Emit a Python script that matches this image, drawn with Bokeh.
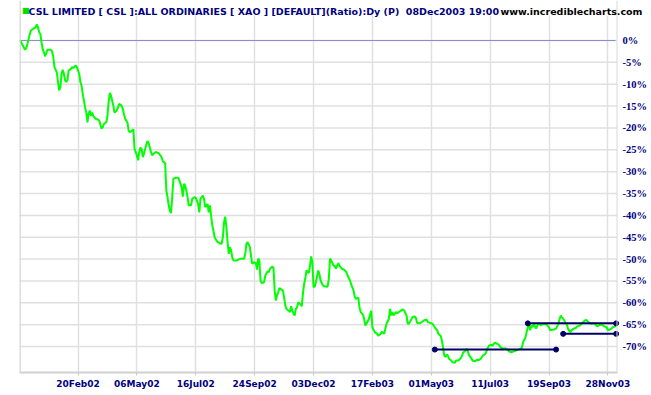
from bokeh.plotting import figure
from bokeh.models import FixedTicker, Span, Label, Range1d, BoxAnnotation
from bokeh.core.properties import value
from bokeh.embed import file_html
from bokeh.resources import INLINE

# trading-day index (20Feb02 = 50, every 50 trading days one tick)
day = [1, 3, 5, 6, 7, 9, 10, 12, 14, 15, 16, 17, 18, 19, 20, 21, 22, 23, 24, 27, 28, 29, 30, 32, 33, 34, 35, 36, 37, 38,
       39, 40, 41, 42, 44, 45, 46, 48, 49, 51, 52, 53, 54, 55, 56, 57, 58, 59, 60, 61, 62, 63, 65, 67, 68, 70, 71, 72, 74, 75,
       76, 77, 78, 80, 81, 83, 84, 85, 87, 88, 89, 90, 92, 93, 94, 96, 97, 98, 100, 101, 102, 103, 104, 105, 106, 108, 109, 110, 112, 113,
       114, 116, 118, 119, 121, 122, 124, 125, 126, 127, 128, 129, 130, 131, 133, 135, 136, 138, 139, 140, 141, 142, 143, 144, 146, 147, 149, 150, 152, 153,
       154, 156, 157, 158, 160, 161, 162, 163, 164, 165, 166, 168, 170, 172, 173, 174, 175, 176, 177, 178, 179, 180, 181, 182, 185, 188, 191, 192, 193, 194,
       196, 197, 198, 199, 201, 202, 203, 204, 205, 206, 208, 209, 211, 212, 213, 215, 216, 217, 218, 219, 220, 221, 222, 224, 225, 226, 227, 229, 230, 231,
       232, 233, 234, 235, 236, 237, 239, 240, 241, 242, 243, 244, 246, 247, 248, 249, 250, 251, 252, 254, 255, 256, 258, 259, 262, 263, 264, 265, 267, 268,
       269, 271, 272, 274, 276, 278, 279, 281, 282, 284, 285, 286, 288, 289, 290, 292, 293, 294, 295, 297, 299, 300, 302, 304, 305, 307, 308, 310, 311, 312,
       314, 315, 316, 317, 318, 320, 321, 324, 326, 327, 329, 330, 331, 332, 334, 336, 337, 338, 340, 342, 344, 346, 347, 349, 351, 352, 353, 355, 356, 358,
       359, 360, 361, 362, 363, 364, 365, 367, 368, 370, 371, 373, 375, 376, 377, 379, 380, 381, 382, 384, 385, 387, 389, 390, 392, 393, 394, 396, 397, 399,
       401, 402, 404, 406, 407, 409, 411, 413, 415, 416, 418, 420, 422, 424, 426, 427, 428, 430, 431, 432, 433, 434, 435, 436, 437, 439, 440, 442, 443, 444,
       446, 448, 450, 451, 452, 454, 456, 458, 459, 460, 461, 463, 464, 465, 466, 468, 469, 471, 473, 474, 476, 478, 479, 481, 482, 484, 486, 487, 489, 491,
       492, 494, 496, 497, 499, 500, 501, 503, 504, 506, 507]
pct = [0.0, -1.1, -2.1, -1.8, -0.8, 1.4, 2.3, 2.7, 3.0, 3.7, 3.0, 1.9, 1.5, -0.4, -1.9, -2.7, -3.6, -3.0, -2.1, -2.1, -2.5, -3.8, -6.1, -7.3, -9.5, -11.4, -10.7, -7.6, -6.7, -7.6,
       -9.1, -9.5, -9.1, -6.9, -6.5, -6.1, -6.3, -5.7, -6.1, -7.6, -9.5, -10.3, -12.2, -13.7, -15.3, -16.4, -18.7, -16.8, -16.0, -17.2, -16.5, -17.3, -17.9, -18.1, -18.3, -20.2, -19.8, -19.1, -18.7, -17.2,
       -14.1, -12.0, -12.6, -14.9, -16.5, -16.0, -15.3, -14.5, -14.9, -15.6, -16.8, -17.9, -18.8, -20.6, -21.0, -20.6, -20.3, -24.8, -26.3, -27.4, -25.5, -24.5, -24.8, -26.7, -25.9, -23.8, -23.0, -23.5, -25.5, -26.3,
       -25.9, -25.5, -25.7, -25.9, -26.7, -27.6, -28.1, -34.3, -35.8, -37.7, -38.9, -39.5, -35.8, -31.6, -31.4, -31.4, -31.9, -33.6, -35.7, -32.8, -33.2, -34.3, -35.8, -37.7, -37.7, -36.2, -35.8, -36.0, -37.4, -39.3,
       -36.2, -35.5, -36.2, -38.1, -37.4, -39.3, -37.7, -40.0, -42.3, -43.5, -45.0, -45.9, -46.4, -46.5, -45.0, -41.6, -40.3, -42.7, -46.1, -48.8, -47.3, -48.0, -49.6, -50.3, -50.3, -49.9, -49.9, -48.8, -46.5, -46.1,
       -47.3, -49.5, -51.1, -50.7, -50.9, -52.4, -49.9, -50.3, -54.9, -55.5, -55.3, -53.8, -52.8, -53.0, -52.2, -51.7, -52.0, -57.2, -59.5, -58.3, -57.6, -56.6, -56.8, -57.2, -58.7, -60.6, -61.4, -61.8, -62.1, -60.8,
       -61.8, -62.5, -62.9, -61.4, -61.0, -59.9, -60.4, -60.8, -57.9, -55.7, -54.5, -52.6, -53.2, -51.5, -49.4, -50.7, -56.4, -56.3, -55.3, -52.6, -53.4, -54.9, -56.0, -56.2, -56.3, -54.5, -49.9, -50.3, -51.5, -51.5,
       -52.2, -50.9, -51.5, -52.2, -52.4, -53.0, -53.8, -54.9, -55.8, -57.2, -58.6, -59.1, -58.8, -61.0, -62.1, -62.7, -63.7, -65.2, -64.8, -63.7, -61.8, -65.6, -66.7, -67.1, -67.5, -67.1, -66.6, -67.1, -65.9, -64.8,
       -63.7, -61.4, -62.9, -62.1, -62.9, -62.1, -62.4, -61.8, -61.5, -61.8, -62.9, -64.8, -64.8, -64.3, -63.3, -63.1, -63.5, -64.6, -64.7, -64.4, -64.0, -63.8, -64.4, -64.6, -64.8, -65.2, -65.6, -66.3, -67.1, -67.6,
       -68.6, -70.2, -72.0, -72.4, -71.9, -72.0, -72.8, -73.2, -73.6, -73.7, -73.2, -73.2, -72.7, -72.2, -71.4, -70.9, -70.5, -71.1, -71.9, -72.7, -73.2, -73.4, -73.0, -73.2, -72.8, -72.4, -72.0, -71.7, -70.9, -69.8,
       -69.6, -69.8, -69.1, -69.4, -69.5, -70.2, -70.5, -70.4, -70.7, -71.1, -71.3, -71.1, -70.9, -70.7, -70.5, -70.2, -69.0, -67.9, -66.7, -65.6, -64.7, -66.3, -65.2, -65.6, -64.8, -65.9, -65.2, -64.7, -65.2, -65.0,
       -64.8, -65.0, -65.6, -66.3, -66.2, -66.1, -65.9, -64.8, -63.7, -62.9, -63.3, -64.0, -64.8, -64.7, -65.9, -66.7, -66.3, -65.9, -65.7, -65.4, -65.2, -64.8, -64.4, -63.9, -64.0, -64.6, -64.8, -64.7, -64.8, -65.4,
       -65.2, -65.0, -65.2, -65.4, -65.6, -66.3, -66.2, -65.9, -65.6, -65.4, -65.2]

tick_days = [50, 100, 150, 200, 250, 300, 350, 400, 450, 500]
tick_labels = ["20Feb02", "06May02", "16Jul02", "24Sep02", "03Dec02",
               "17Feb03", "01May03", "11Jul03", "19Sep03", "28Nov03"]
pct_ticks = [0, -5, -10, -15, -20, -25, -30, -35, -40, -45, -50, -55, -60, -65, -70]
pct_labels = ["0%", "-5%", "-10%", "-15%", "-20%", "-25%", "-30%", "-35%", "-40%", "-45%",
              "-50%", "-55%", "-60%", "-65%", "-70%"]

# horizontal support / resistance lines
trend_start = [353, 432, 462]
trend_end = [456, 507, 507]
trend_level = [-70.7, -64.7, -67.1]

title_text = "CSL LIMITED [ CSL ]:ALL ORDINARIES [ XAO ] [DEFAULT](Ratio):Dy (P)\u00a0 08Dec2003 19:00"
site_text = "www.incrediblecharts.com"

# layout: chart area spans px 19..616 (data 0.3..507.3); canvas frame extends to 648 for the label column
FL, FT = 19, 0
FW, FH = 629, 372
PXD = 507.0 / 597.0          # trading days per pixel
PXP = 85.091 / 372.0         # percent per pixel
X0 = 0.3
X1 = X0 + FW * PXD
Y1 = 9.151
Y0 = Y1 - FH * PXP
NAVY = "#000080"


def xd(px):
    return X0 + (px - FL) * PXD


def yd(py):
    return Y1 - (py - FT) * PXP


p = figure(frame_width=FW, frame_height=FH, x_range=Range1d(X0, X1), y_range=Range1d(Y0, Y1),
           output_backend="svg", toolbar_location=None, y_axis_location=None,
           min_border_left=FL, min_border_top=FT, min_border_right=0, min_border_bottom=0,
           background_fill_color="white", border_fill_color="white")
p.outline_line_color = None

# x axis
xa = p.xaxis[0]
xa.ticker = FixedTicker(ticks=tick_days)
xa.major_label_overrides = {d: l for d, l in zip(tick_days, tick_labels)}
xa.bounds = (X0, xd(616.5))
xa.axis_line_color = "#d0d0d0"
xa.axis_line_width = 2
xa.major_tick_out = 3
xa.major_tick_in = 0
xa.major_tick_line_color = "#c8c8c8"
xa.minor_tick_line_color = None
xa.major_label_standoff = 3
xa.major_label_text_font = "DejaVu Sans"
xa.major_label_text_font_style = "bold"
xa.major_label_text_font_size = "9px"
xa.major_label_text_color = NAVY

p.xgrid[0].ticker = FixedTicker(ticks=tick_days)
p.xgrid[0].grid_line_color = "#e0e0e0"
p.xgrid[0].grid_line_width = 1.5
p.ygrid[0].visible = False

# horizontal grid lines, only across the chart area
p.segment(x0=[X0] * len(pct_ticks), x1=[xd(616.5)] * len(pct_ticks), y0=pct_ticks, y1=pct_ticks,
          line_color="#e0e0e0", line_width=1.5, level="underlay")
# 0% reference line
p.segment(x0=[X0], x1=[xd(615)], y0=[0], y1=[0], line_color="#8c8cd2", line_width=1)

p.line(day, pct, line_color="#00ff00", line_width=2)
p.segment(x0=trend_start, y0=trend_level, x1=trend_end, y1=trend_level, line_color="#000066", line_width=2)
p.scatter(x=trend_start + trend_end, y=trend_level + trend_level, size=5, color="#000066")

# right-hand percent scale
p.text(x=[xd(622)] * len(pct_ticks), y=pct_ticks, text=pct_labels, text_font=value("Liberation Serif"),
       text_font_style="bold", text_font_size="10.5px", text_color=NAVY, text_align="left",
       text_baseline="middle")

# white header band above the chart area (hides grid lines behind the title)
p.add_layout(BoxAnnotation(left=X0, right=X1, bottom=yd(15), top=Y1, fill_color="white", fill_alpha=1.0,
                           line_color=None))
p.add_layout(Span(location=X0 + 0.4, dimension="height", line_color="#d0d0d0", line_width=1.5))
p.add_layout(Span(location=xd(616.5), dimension="height", line_color="#d8d8d8", line_width=1))

p.add_layout(Label(x=xd(21.5), y=yd(9.5), text="\u25a0", text_font="DejaVu Sans", text_font_size="8px",
                   text_color="#00dd00", text_baseline="alphabetic"))
p.add_layout(Label(x=xd(28), y=yd(10.5), text=title_text, text_font="DejaVu Sans", text_font_style="bold",
                   text_font_size="9.5px", text_color=NAVY, text_baseline="alphabetic"))
p.add_layout(Label(x=xd(500), y=yd(10.5), text=site_text, text_font="DejaVu Sans", text_font_style="bold",
                   text_font_size="9.5px", text_color="black", text_baseline="alphabetic"))

open("out.html", "w").write(file_html(p, INLINE))
